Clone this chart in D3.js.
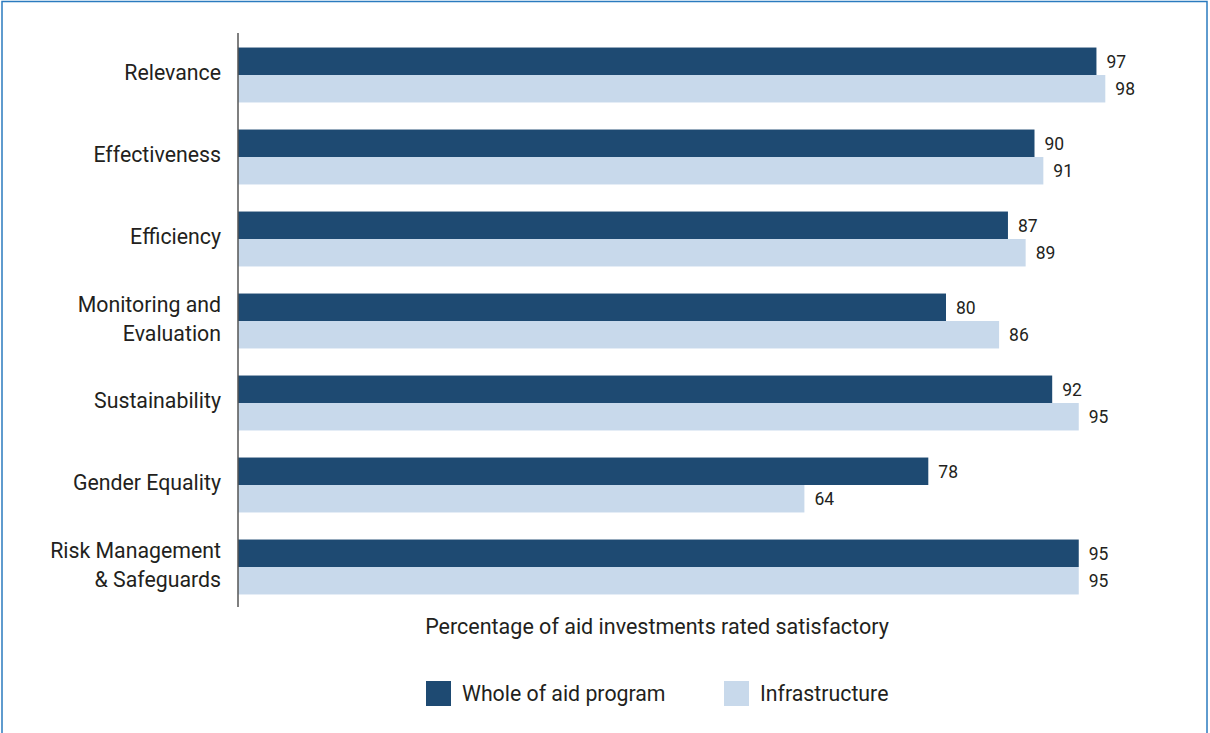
<!DOCTYPE html>
<html><head><meta charset="utf-8">
<script src="https://cdn.jsdelivr.net/npm/d3@7"></script>
<style>body{margin:0;background:#fff}svg{display:block}text{font-family:Roboto,"Liberation Sans",sans-serif;fill:#231f20}</style>
</head><body><svg id="c" width="1210" height="733"></svg>
<script>
const categories = [["Relevance"],["Effectiveness"],["Efficiency"],["Monitoring and","Evaluation"],["Sustainability"],["Gender Equality"],["Risk Management","& Safeguards"]];
const wholeOfAid = [97,90,87,80,92,78,95];
const infrastructure = [98,91,89,86,95,64,95];
const seriesNames = ["Whole of aid program","Infrastructure"];
const colors = ["#1e4a72","#c8d9eb"];
const xTitle = "Percentage of aid investments rated satisfactory";

const svg = d3.select("#c");
svg.append("rect").attr("x",2).attr("y",1.5).attr("width",1205).attr("height",760)
  .attr("fill","none").attr("stroke","#2b7bbf").attr("stroke-width",1.5);

const keys = categories.map(c=>c.join(" "));
const x = d3.scaleLinear().domain([0,100]).range([238,1123]);
const y = d3.scaleBand().domain(keys).range([34,608]).paddingInner(0.33).paddingOuter(0.165);
const sub = d3.scaleBand().domain([0,1]).range([0,y.bandwidth()]);

const data = keys.map((k,i)=>({k, vals:[wholeOfAid[i],infrastructure[i]], lines:categories[i]}));
const g = svg.append("g");
data.forEach(d=>{
  d.vals.forEach((v,j)=>{
    g.append("rect").attr("x",x(0)).attr("y",y(d.k)+sub(j)).attr("width",x(v)-x(0)).attr("height",sub.bandwidth())
      .attr("fill",colors[j]);
    g.append("text").attr("x",x(v)+10).attr("y",y(d.k)+sub(j)+sub.bandwidth()/2).attr("dy","0.36em")
      .attr("font-size",17.5).text(v);
  });
  const cy = y(d.k)+y.bandwidth()/2 - 2.5;
  const n = d.lines.length;
  d.lines.forEach((t,li)=>{
    g.append("text").attr("x",221).attr("y",cy+(li-(n-1)/2)*29).attr("dy","0.36em")
      .attr("text-anchor","end").attr("font-size",21.3).text(t);
  });
});
svg.append("line").attr("x1",238).attr("x2",238).attr("y1",33).attr("y2",607).attr("stroke","#555").attr("stroke-width",1.5);

svg.append("text").attr("x",657).attr("y",626).attr("dy","0.36em").attr("text-anchor","middle").attr("font-size",21.5).text(xTitle);

const leg = [{x:426},{x:724}];
seriesNames.forEach((s,i)=>{
  svg.append("rect").attr("x",leg[i].x).attr("y",681).attr("width",25).attr("height",25).attr("fill",colors[i]);
  svg.append("text").attr("x",leg[i].x+36).attr("y",693).attr("dy","0.36em").attr("font-size",21.3).text(s);
});
</script></body></html>
